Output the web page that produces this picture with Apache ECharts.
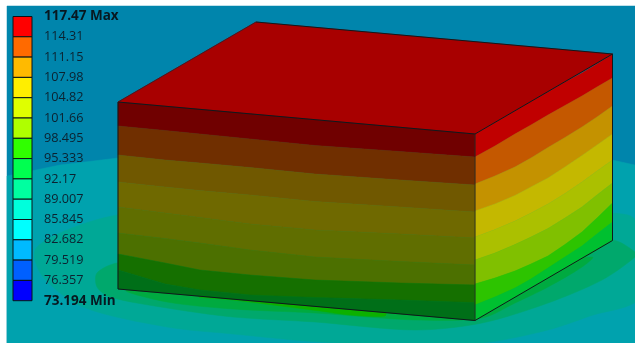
<!DOCTYPE html>
<html>
<head>
<meta charset="utf-8">
<title>Temperature contour</title>
<script src="https://cdn.jsdelivr.net/npm/echarts@6/dist/echarts.min.js"></script>
<style>
  html, body { margin: 0; padding: 0; background: #fff; }
  #main { width: 635px; height: 343px; }
</style>
</head>
<body>
<div id="main"></div>
<script>
// legend, top to bottom
const legendLabels = ['117.47 Max', '114.31', '111.15', '107.98', '104.82', '101.66', '98.495', '95.333',
    '92.17', '89.007', '85.845', '82.682', '79.519', '76.357', '73.194 Min']
const legendColors = ['#ff0000', '#ff6a00', '#ffba00', '#ffee00', '#dfff00', '#afff00', '#30ff00',
    '#00ff50', '#00ffa0', '#00ffdc', '#00ffff', '#00baff', '#0060ff', '#0000ff']

// contours on the floor, outermost first
const floorColors = ['#0085ac', '#00a2ae', '#00a896', '#00a86c', '#00aa40', '#0cb000']
const floorSmooth = [0, 0, 0.3, 0.3, 0.3, 0.3]
const floorOutlines = [
    [[7, 6], [635, 6], [635, 343], [7, 343]],
    [[7, 176], [60, 165], [118, 158], [300, 150], [612, 160], [635, 165], [635, 343], [7, 343]],
    [[35, 250], [67, 230], [117, 215], [300, 190], [612, 213], [635, 220], [640, 297], [590, 316], [548, 330],
        [482, 343], [400, 344], [320, 342], [233, 334], [167, 327], [83, 307], [43, 277]],
    [[97, 273], [117, 263], [300, 240], [612, 240], [635, 252], [635, 257], [602, 280], [548, 303], [482, 323],
        [415, 330], [315, 322], [233, 317], [167, 308], [110, 297], [97, 287]],
    [[127, 290], [300, 280], [592, 257], [582, 267], [548, 287], [515, 303], [482, 318], [415, 320], [315, 313],
        [233, 309], [167, 302]],
    [[200, 297], [300, 295], [385, 310], [385, 316], [350, 315], [320, 311], [233, 300]]
]

// front face: boundary lines between bands, y at each frontX
const frontX = [118, 165, 200, 250, 315, 400, 475]
const frontEdges = [
    [102, 106.2, 109.3, 113.8, 119.7, 127.3, 134],
    [126, 130.5, 134, 139, 145.5, 151.5, 157],
    [155, 160, 163, 167.5, 174, 180, 185],
    [182, 187, 190.5, 195, 201.5, 207, 212],
    [207, 213, 217.5, 224, 230, 234, 238],
    [233, 238.5, 243, 250, 257, 261.5, 265],
    [254, 263, 270, 275, 280, 283, 285],
    [270, 284, 290, 295, 297.5, 300, 302.7],
    [289, 293.1, 296.2, 300.7, 306.4, 313.9, 320.5]
]
const frontColors = ['#700000', '#702f00', '#705800', '#6f6900', '#606e00', '#4c7000', '#157000', '#006f18']

// right face
const sideX = [475, 495, 515, 531, 548, 565, 582, 597, 612.5]
const sideEdges = [
    [134, 122.4, 111, 101.6, 92, 82, 73, 64, 54],
    [157, 146, 134, 125, 115, 105.5, 96, 87, 78],
    [184, 176, 167, 158, 147.5, 137.5, 127, 117, 106],
    [211, 204, 195.5, 187, 178, 167, 155.5, 145, 134],
    [237, 229.5, 221, 213, 204, 193.5, 182, 171, 160],
    [260, 253, 244.5, 237, 228.5, 218, 207, 195, 183],
    [284, 278, 271, 264, 256, 244.5, 232, 218, 203],
    [305, 297, 288, 279, 268, 257, 246, 234, 222],
    [320.5, 309, 297.5, 288, 278.5, 268.5, 259, 250, 240.5]
]
const sideColors = ['#c00000', '#c45800', '#c49200', '#c4b800', '#abc000', '#80c000', '#2dc400', '#00c030']

const topFace = [[118, 102], [256, 22], [612.5, 54], [475, 134]]
const topColor = '#a80000'
const boxEdges = [
    [[256, 22], [612.5, 54], [475, 134], [118, 102], [118, 289], [475, 320.5], [612.5, 240.5], [612.5, 54]],
    [[475, 134], [475, 320.5]],
    [[118, 102], [256, 22]]
]
const boxEdgeColors = ['#10181c', '#1c2420', '#4a1820']

const bandOutline = (xs, upper, lower) => {
    const out = xs.map((x, i) => [x, upper[i]])
    for (let i = xs.length - 1; i >= 0; i--) out.push([xs[i], lower[i]])
    return out
}

const regions = []
floorOutlines.forEach((pts, i) => regions.push({ pts: pts, color: floorColors[i], smooth: floorSmooth[i] }))
regions.push({ pts: topFace, color: topColor, smooth: 0 })
frontColors.forEach((c, i) => regions.push({ pts: bandOutline(frontX, frontEdges[i], frontEdges[i + 1]), color: c, smooth: 0 }))
sideColors.forEach((c, i) => regions.push({ pts: bandOutline(sideX, sideEdges[i], sideEdges[i + 1]), color: c, smooth: 0 }))

const myChart = echarts.init(document.getElementById('main'), null, { renderer: 'canvas' })

const option = {
    animation: false,
    grid: [
        { left: 0, top: 0, width: 635, height: 343 },
        { left: 13, top: 16.5, width: 19, height: 284.2 }
    ],
    xAxis: [
        { type: 'value', gridIndex: 0, min: 0, max: 635, show: false },
        { type: 'value', gridIndex: 1, min: 0, max: 1, show: false }
    ],
    yAxis: [
        { type: 'value', gridIndex: 0, min: 0, max: 343, inverse: true, show: false },
        {
            type: 'value', gridIndex: 1, min: 0, max: 14, interval: 1, position: 'right', z: 20,
            axisLine: { show: false },
            axisTick: { show: false },
            splitLine: { show: false },
            axisLabel: {
                margin: 12,
                align: 'left',
                color: '#0b2230',
                fontFamily: 'Open Sans',
                fontSize: 12.7,
                formatter: (v) => {
                    const s = legendLabels[14 - v]
                    return (v === 0 || v === 14) ? '{b|' + s + '}' : s
                },
                rich: { b: { fontFamily: 'Open Sans', fontSize: 13.5, fontWeight: 'bold', color: '#071820' } }
            }
        }
    ],
    series: [
        {
            type: 'custom',
            xAxisIndex: 0,
            yAxisIndex: 0,
            z: 1,
            silent: true,
            clip: false,
            data: regions.map((r, i) => [i]),
            encode: { x: [], y: [] },
            renderItem: (params, api) => {
                const r = regions[params.dataIndex]
                return {
                    type: 'polygon',
                    shape: { points: r.pts.map((p) => api.coord(p)), smooth: r.smooth },
                    style: { fill: r.color, stroke: r.color, lineWidth: 0.5 }
                }
            }
        },
        {
            type: 'custom',
            xAxisIndex: 0,
            yAxisIndex: 0,
            z: 2,
            silent: true,
            clip: false,
            data: boxEdges.map((e, i) => [i]),
            encode: { x: [], y: [] },
            renderItem: (params, api) => ({
                type: 'polyline',
                shape: { points: boxEdges[params.dataIndex].map((p) => api.coord(p)) },
                style: { fill: null, stroke: boxEdgeColors[params.dataIndex], lineWidth: 1 }
            })
        },
        {
            type: 'custom',
            xAxisIndex: 1,
            yAxisIndex: 1,
            z: 3,
            silent: true,
            data: legendColors.map((c, i) => [i]),
            encode: { x: [], y: [] },
            renderItem: (params, api) => {
                const i = params.dataIndex
                const a = api.coord([0, 14 - i])
                const b = api.coord([1, 13 - i])
                return {
                    type: 'rect',
                    shape: { x: a[0], y: a[1], width: b[0] - a[0], height: b[1] - a[1] },
                    style: { fill: legendColors[i], stroke: '#0a1418', lineWidth: 1 }
                }
            }
        }
    ]
}
myChart.setOption(option)
</script>
</body>
</html>
